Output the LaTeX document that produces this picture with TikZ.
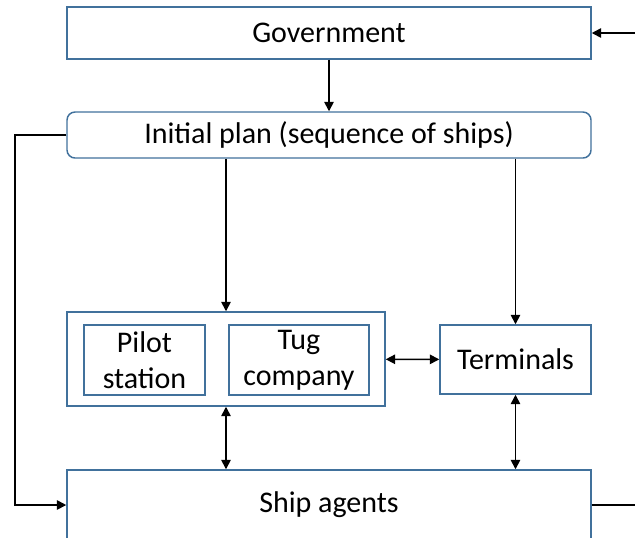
\documentclass[tikz,border=0pt]{standalone}
\usepackage{fontspec}
\setmainfont{Carlito}
\usepackage{xcolor}
\usetikzlibrary{arrows.meta,positioning}
\definecolor{boxblue}{HTML}{41719C}
\tikzset{box/.style={draw=boxblue,line width=1.1pt,fill=white,inner sep=0pt,align=center,
  font=\fontsize{22.5}{27}\selectfont},
  link/.style={line width=1.2pt,black}}

\begin{document}
\begin{tikzpicture}[x=0.75pt,y=-0.75pt,>={Triangle[length=7pt,width=7pt]}]
\useasboundingbox(0,0)rectangle(635,537);
\clip(0,0)rectangle(635,537);
\node[box,minimum width=393pt,minimum height=39pt](gov)at(329,33){Government};
\node[box,rounded corners=6pt,minimum width=393pt,minimum height=34.5pt](plan)at(329,135){Initial plan (sequence of ships)};
\node[box,minimum width=238.5pt,minimum height=70.5pt](group)at(226,359){};
\node[box,minimum width=90.75pt,minimum height=52.5pt](pilot)at(144.5,360){Pilot\\station};
\node[box,minimum width=105pt,minimum height=52.5pt](tug)at(299,360){Tug\\company};
\node[box,minimum width=113.25pt,minimum height=51.75pt](term)at(515.5,359.5){Terminals};
\node[box,minimum width=393pt,minimum height=52.5pt](agents)at(329,505){Ship agents};
\coordinate(govin)at(635,33);
\coordinate(lft)at(15,135);
\coordinate(agout)at(635,505);
\draw[link,->](govin)--(gov.east);
\draw[link,->](gov)--(plan);
\draw[link,->](plan.west)--(lft)|-(agents.west);
\draw[link,->](group.north|-plan.south)--(group.north);
\draw[link,->](term.north|-plan.south)--(term.north);
\draw[link,<->](group)--(term);
\draw[link,<->](group.south)--(group.south|-agents.north);
\draw[link,<->](term.south)--(term.south|-agents.north);
\draw[link](agents.east)--(agout);
\end{tikzpicture}
\end{document}
